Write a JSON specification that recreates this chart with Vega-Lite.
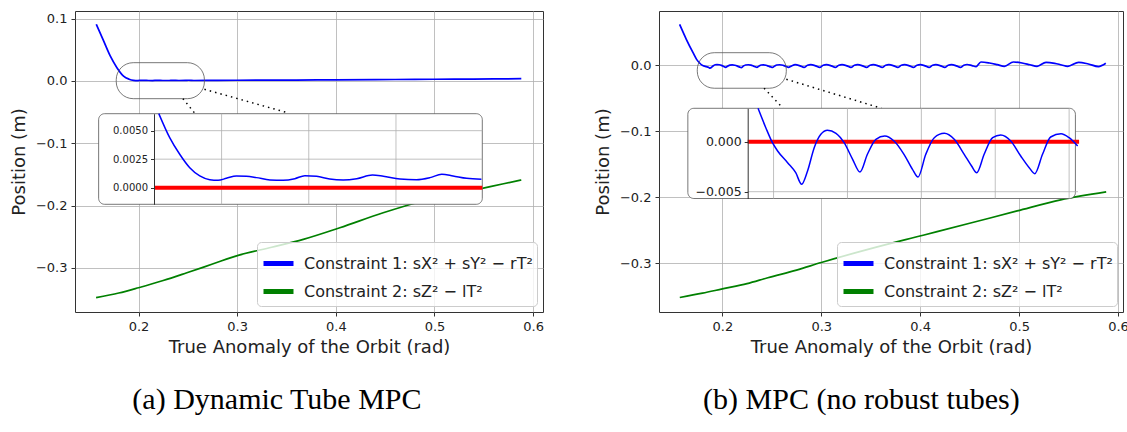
{
  "$schema": "https://vega.github.io/schema/vega-lite/v6.json",
  "padding": {"left": 9, "top": 10, "right": 0, "bottom": 0},
  "background": "white",
  "spacing": 49,
  "config": {
    "font": "DejaVu Sans",
    "view": {"stroke": "#333333", "strokeWidth": 1},
    "axis": {"labelFont": "DejaVu Sans", "labelFontSize": 13, "labelColor": "#222222", "titleFont": "DejaVu Sans", "titleFontSize": 18, "titleFontWeight": "normal", "titleColor": "#222222", "tickColor": "#333333", "tickSize": 4, "labelPadding": 4, "gridColor": "#b0b0b0", "gridWidth": 0.8, "domain": false},
    "legend": {"orient": "bottom-right", "offset": 6, "labelFont": "DejaVu Sans", "labelFontSize": 16, "labelColor": "#222222", "symbolType": "stroke", "symbolStrokeWidth": 5, "symbolSize": 900, "fillColor": "rgba(255,255,255,0.8)", "strokeColor": "#cccccc", "cornerRadius": 4, "padding": 4, "rowPadding": 0, "labelOffset": 8, "labelLimit": 400}
  },
  "datasets": {
    "a_main": [
      {"x": 0.1572, "y": 0.0911, "s": "1"}, {"x": 0.1646, "y": 0.0643, "s": "1"}, {"x": 0.1713, "y": 0.0402, "s": "1"}, {"x": 0.1781, "y": 0.0214, "s": "1"}, {"x": 0.1848, "y": 0.0078, "s": "1"}, {"x": 0.1904, "y": 0.0029, "s": "1"}, {"x": 0.195, "y": 0.00103, "s": "1"}, {"x": 0.1992, "y": 0.00065, "s": "1"}, {"x": 0.2034, "y": 0.00103, "s": "1"}, {"x": 0.208, "y": 0.00088, "s": "1"}, {"x": 0.2141, "y": 0.00065, "s": "1"}, {"x": 0.2191, "y": 0.00105, "s": "1"}, {"x": 0.2248, "y": 0.00076, "s": "1"}, {"x": 0.231, "y": 0.00079, "s": "1"}, {"x": 0.2346, "y": 0.00111, "s": "1"}, {"x": 0.2409, "y": 0.00076, "s": "1"}, {"x": 0.2478, "y": 0.00088, "s": "1"}, {"x": 0.2505, "y": 0.00118, "s": "1"}, {"x": 0.2562, "y": 0.00082, "s": "1"}, {"x": 0.28, "y": 0.001, "s": "1"}, {"x": 0.32, "y": 0.0013, "s": "1"}, {"x": 0.36, "y": 0.0015, "s": "1"}, {"x": 0.4, "y": 0.0018, "s": "1"}, {"x": 0.44, "y": 0.0022, "s": "1"}, {"x": 0.48, "y": 0.0026, "s": "1"}, {"x": 0.52, "y": 0.003, "s": "1"}, {"x": 0.56, "y": 0.0033, "s": "1"}, {"x": 0.588, "y": 0.0037, "s": "1"},
      {"x": 0.157, "y": -0.348, "s": "2"}, {"x": 0.18, "y": -0.3405, "s": "2"}, {"x": 0.2, "y": -0.332, "s": "2"}, {"x": 0.225, "y": -0.3205, "s": "2"}, {"x": 0.249, "y": -0.308, "s": "2"}, {"x": 0.275, "y": -0.294, "s": "2"}, {"x": 0.301, "y": -0.28, "s": "2"}, {"x": 0.335, "y": -0.267, "s": "2"}, {"x": 0.367, "y": -0.2543, "s": "2"}, {"x": 0.404, "y": -0.2357, "s": "2"}, {"x": 0.448, "y": -0.2116, "s": "2"}, {"x": 0.482, "y": -0.1955, "s": "2"}, {"x": 0.52, "y": -0.182, "s": "2"}, {"x": 0.5484, "y": -0.1724, "s": "2"}, {"x": 0.57, "y": -0.165, "s": "2"}, {"x": 0.588, "y": -0.159, "s": "2"}
    ],
    "a_inset": [
      {"x": 0.1856, "y": 0.0065}, {"x": 0.1881, "y": 0.00439}, {"x": 0.1904, "y": 0.00293}, {"x": 0.1927, "y": 0.00175}, {"x": 0.195, "y": 0.00103}, {"x": 0.1973, "y": 0.0007}, {"x": 0.1992, "y": 0.00065}, {"x": 0.2011, "y": 0.00082}, {"x": 0.2034, "y": 0.00103}, {"x": 0.2057, "y": 0.001}, {"x": 0.208, "y": 0.00088}, {"x": 0.2111, "y": 0.00068}, {"x": 0.2141, "y": 0.00065}, {"x": 0.2168, "y": 0.00079}, {"x": 0.2191, "y": 0.00105}, {"x": 0.2218, "y": 0.001}, {"x": 0.2248, "y": 0.00076}, {"x": 0.2279, "y": 0.00068}, {"x": 0.231, "y": 0.00079}, {"x": 0.2346, "y": 0.00111}, {"x": 0.2371, "y": 0.001}, {"x": 0.2409, "y": 0.00076}, {"x": 0.2447, "y": 0.0007}, {"x": 0.2478, "y": 0.00088}, {"x": 0.2505, "y": 0.00118}, {"x": 0.2531, "y": 0.00103}, {"x": 0.2562, "y": 0.00082}, {"x": 0.2596, "y": 0.00074}
    ],
    "a_ref": [{"x": 0.1845, "y": 0}, {"x": 0.2598, "y": 0}],
    "a_grid": [
      {"x": 0.2, "x2": 0.2, "y": -0.00146, "y2": 0.00649}, {"x": 0.22, "x2": 0.22, "y": -0.00146, "y2": 0.00649}, {"x": 0.24, "x2": 0.24, "y": -0.00146, "y2": 0.00649},
      {"x": 0.1845, "x2": 0.2598, "y": 0, "y2": 0}, {"x": 0.1845, "x2": 0.2598, "y": 0.0025, "y2": 0.0025}, {"x": 0.1845, "x2": 0.2598, "y": 0.005, "y2": 0.005}
    ],
    "a_box": [{"x": 0.1774, "x2": 0.2668, "y": -0.0284, "y2": 0.0294}],
    "a_links": [{"x": 0.245, "y": -0.0284, "x2": 0.2574, "y2": -0.0525}, {"x": 0.2668, "y": -0.0133, "x2": 0.3509, "y2": -0.0509}],
    "a_frame": [{"x": 0.1718, "x2": 0.2598, "y": -0.00146, "y2": 0.00649}],
    "b_main": [
      {"x": 0.1568, "y": 0.0621, "s": "1"}, {"x": 0.1636, "y": 0.0394, "s": "1"}, {"x": 0.1704, "y": 0.0191, "s": "1"}, {"x": 0.174, "y": 0.009, "s": "1"}, {"x": 0.177, "y": 0.0035, "s": "1"}, {"x": 0.1797, "y": -0.0001, "s": "1"}, {"x": 0.1811, "y": -0.00093, "s": "1"}, {"x": 0.1838, "y": -0.0021, "s": "1"}, {"x": 0.186, "y": -0.0031, "s": "1"}, {"x": 0.1876, "y": -0.00426, "s": "1"}, {"x": 0.1892, "y": -0.00293, "s": "1"}, {"x": 0.191, "y": -0.0006, "s": "1"}, {"x": 0.1928, "y": 0.00074, "s": "1"}, {"x": 0.1946, "y": 0.00114, "s": "1"}, {"x": 0.1969, "y": 0.00084, "s": "1"}, {"x": 0.1991, "y": -0.0001, "s": "1"}, {"x": 0.2014, "y": -0.00176, "s": "1"}, {"x": 0.2034, "y": -0.00303, "s": "1"}, {"x": 0.2054, "y": -0.00126, "s": "1"}, {"x": 0.2077, "y": 0.00024, "s": "1"}, {"x": 0.2101, "y": 0.00057, "s": "1"}, {"x": 0.2126, "y": 0.00007, "s": "1"}, {"x": 0.2153, "y": -0.00126, "s": "1"}, {"x": 0.2176, "y": -0.00276, "s": "1"}, {"x": 0.2191, "y": -0.00353, "s": "1"}, {"x": 0.2212, "y": -0.00126, "s": "1"}, {"x": 0.2235, "y": 0.0004, "s": "1"}, {"x": 0.2262, "y": 0.00084, "s": "1"}, {"x": 0.2289, "y": 0.00024, "s": "1"}, {"x": 0.2316, "y": -0.00126, "s": "1"}, {"x": 0.2336, "y": -0.00243, "s": "1"}, {"x": 0.235, "y": -0.0031, "s": "1"}, {"x": 0.237, "y": -0.00126, "s": "1"}, {"x": 0.2393, "y": 0.0004, "s": "1"}, {"x": 0.2415, "y": 0.00067, "s": "1"}, {"x": 0.2442, "y": 0.00007, "s": "1"}, {"x": 0.2469, "y": -0.00143, "s": "1"}, {"x": 0.2492, "y": -0.0026, "s": "1"}, {"x": 0.2507, "y": -0.0032, "s": "1"}, {"x": 0.2528, "y": -0.00126, "s": "1"}, {"x": 0.255, "y": 0.00047, "s": "1"}, {"x": 0.2578, "y": 0.0008, "s": "1"}, {"x": 0.26, "y": 0.0004, "s": "1"}, {"x": 0.2623, "y": -0.00043, "s": "1"}, {"x": 0.2645, "y": -0.0018, "s": "1"}, {"x": 0.2668, "y": -0.0032, "s": "1"}, {"x": 0.27, "y": -0.001, "s": "1"},
      {"x": 0.2736, "y": 0.0009, "s": "1"}, {"x": 0.2786, "y": -0.0009, "s": "1"}, {"x": 0.2826, "y": -0.0033, "s": "1"}, {"x": 0.2861, "y": 0.0001, "s": "1"},
      {"x": 0.2894, "y": 0.0009, "s": "1"}, {"x": 0.2944, "y": -0.0009, "s": "1"}, {"x": 0.2984, "y": -0.0033, "s": "1"}, {"x": 0.3019, "y": 0.0001, "s": "1"},
      {"x": 0.3052, "y": 0.0009, "s": "1"}, {"x": 0.3102, "y": -0.0009, "s": "1"}, {"x": 0.3142, "y": -0.0033, "s": "1"}, {"x": 0.3177, "y": 0.0001, "s": "1"},
      {"x": 0.321, "y": 0.0009, "s": "1"}, {"x": 0.326, "y": -0.0009, "s": "1"}, {"x": 0.33, "y": -0.0033, "s": "1"}, {"x": 0.3335, "y": 0.0001, "s": "1"},
      {"x": 0.3368, "y": 0.0009, "s": "1"}, {"x": 0.3418, "y": -0.0009, "s": "1"}, {"x": 0.3458, "y": -0.0033, "s": "1"}, {"x": 0.3493, "y": 0.0001, "s": "1"},
      {"x": 0.3526, "y": 0.0009, "s": "1"}, {"x": 0.3576, "y": -0.0009, "s": "1"}, {"x": 0.3616, "y": -0.0033, "s": "1"}, {"x": 0.3651, "y": 0.0001, "s": "1"},
      {"x": 0.3684, "y": 0.0009, "s": "1"}, {"x": 0.3734, "y": -0.0009, "s": "1"}, {"x": 0.3774, "y": -0.0033, "s": "1"}, {"x": 0.3809, "y": 0.0001, "s": "1"},
      {"x": 0.3842, "y": 0.0009, "s": "1"}, {"x": 0.3892, "y": -0.0009, "s": "1"}, {"x": 0.3932, "y": -0.0033, "s": "1"}, {"x": 0.3967, "y": 0.0001, "s": "1"},
      {"x": 0.4, "y": 0.0009, "s": "1"}, {"x": 0.405, "y": -0.0009, "s": "1"}, {"x": 0.409, "y": -0.0033, "s": "1"}, {"x": 0.4125, "y": 0.0001, "s": "1"},
      {"x": 0.4158, "y": 0.0009, "s": "1"}, {"x": 0.4208, "y": -0.0009, "s": "1"}, {"x": 0.4248, "y": -0.0033, "s": "1"}, {"x": 0.4283, "y": 0.0001, "s": "1"},
      {"x": 0.4316, "y": 0.0009, "s": "1"}, {"x": 0.4366, "y": -0.0009, "s": "1"}, {"x": 0.4406, "y": -0.0033, "s": "1"}, {"x": 0.4441, "y": 0.0001, "s": "1"},
      {"x": 0.4474, "y": 0.0012, "s": "1"}, {"x": 0.4524, "y": -0.0005, "s": "1"}, {"x": 0.4565, "y": -0.002, "s": "1"},
      {"x": 0.4614, "y": 0.005, "s": "1"}, {"x": 0.47, "y": 0.0035, "s": "1"}, {"x": 0.478, "y": 0.001, "s": "1"}, {"x": 0.4851, "y": -0.0015, "s": "1"},
      {"x": 0.4942, "y": 0.005, "s": "1"}, {"x": 0.503, "y": 0.0035, "s": "1"}, {"x": 0.511, "y": 0.0008, "s": "1"}, {"x": 0.5181, "y": -0.0015, "s": "1"},
      {"x": 0.5272, "y": 0.0045, "s": "1"}, {"x": 0.536, "y": 0.003, "s": "1"}, {"x": 0.543, "y": 0.0005, "s": "1"}, {"x": 0.5491, "y": -0.0015, "s": "1"},
      {"x": 0.5602, "y": 0.0045, "s": "1"}, {"x": 0.57, "y": 0.002, "s": "1"}, {"x": 0.5802, "y": -0.002, "s": "1"}, {"x": 0.5876, "y": 0.003, "s": "1"},
      {"x": 0.157, "y": -0.352, "s": "2"}, {"x": 0.18, "y": -0.3455, "s": "2"}, {"x": 0.2, "y": -0.339, "s": "2"}, {"x": 0.225, "y": -0.331, "s": "2"}, {"x": 0.246, "y": -0.322, "s": "2"}, {"x": 0.275, "y": -0.3105, "s": "2"}, {"x": 0.3, "y": -0.299, "s": "2"}, {"x": 0.35, "y": -0.278, "s": "2"}, {"x": 0.403, "y": -0.2576, "s": "2"}, {"x": 0.45, "y": -0.2395, "s": "2"}, {"x": 0.498, "y": -0.2208, "s": "2"}, {"x": 0.542, "y": -0.204, "s": "2"}, {"x": 0.588, "y": -0.192, "s": "2"}
    ],
    "b_inset": [
      {"x": 0.1758, "y": 0.00334}, {"x": 0.1779, "y": 0.0014}, {"x": 0.1797, "y": -0.0001}, {"x": 0.1811, "y": -0.00093}, {"x": 0.1838, "y": -0.0021}, {"x": 0.186, "y": -0.0031}, {"x": 0.1876, "y": -0.00426}, {"x": 0.1892, "y": -0.00293}, {"x": 0.191, "y": -0.0006}, {"x": 0.1928, "y": 0.00074}, {"x": 0.1946, "y": 0.00114}, {"x": 0.1969, "y": 0.00084}, {"x": 0.1991, "y": -0.0001}, {"x": 0.2014, "y": -0.00176}, {"x": 0.2034, "y": -0.00303}, {"x": 0.2054, "y": -0.00126}, {"x": 0.2077, "y": 0.00024}, {"x": 0.2101, "y": 0.00057}, {"x": 0.2126, "y": 0.00007}, {"x": 0.2153, "y": -0.00126}, {"x": 0.2176, "y": -0.00276}, {"x": 0.2191, "y": -0.00353}, {"x": 0.2212, "y": -0.00126}, {"x": 0.2235, "y": 0.0004}, {"x": 0.2262, "y": 0.00084}, {"x": 0.2289, "y": 0.00024}, {"x": 0.2316, "y": -0.00126}, {"x": 0.2336, "y": -0.00243}, {"x": 0.235, "y": -0.0031}, {"x": 0.237, "y": -0.00126}, {"x": 0.2393, "y": 0.0004}, {"x": 0.2415, "y": 0.00067}, {"x": 0.2442, "y": 0.00007}, {"x": 0.2469, "y": -0.00143}, {"x": 0.2492, "y": -0.0026}, {"x": 0.2507, "y": -0.0032}, {"x": 0.2528, "y": -0.00126}, {"x": 0.255, "y": 0.00047}, {"x": 0.2578, "y": 0.0008}, {"x": 0.26, "y": 0.0004}, {"x": 0.2623, "y": -0.00043}
    ],
    "b_ref": [{"x": 0.173, "y": 0}, {"x": 0.2627, "y": 0}],
    "b_grid": [
      {"x": 0.18, "x2": 0.18, "y": -0.00568, "y2": 0.00334}, {"x": 0.2, "x2": 0.2, "y": -0.00568, "y2": 0.00334}, {"x": 0.22, "x2": 0.22, "y": -0.00568, "y2": 0.00334}, {"x": 0.24, "x2": 0.24, "y": -0.00568, "y2": 0.00334}, {"x": 0.26, "x2": 0.26, "y": -0.00568, "y2": 0.00334},
      {"x": 0.173, "x2": 0.2624, "y": 0, "y2": 0}, {"x": 0.173, "x2": 0.2624, "y": -0.005, "y2": -0.005}
    ],
    "b_box": [{"x": 0.1747, "x2": 0.2647, "y": -0.0348, "y2": 0.0191}],
    "b_links": [{"x": 0.2422, "y": -0.0348, "x2": 0.2614, "y2": -0.0652}, {"x": 0.2647, "y": -0.0212, "x2": 0.3608, "y2": -0.0652}],
    "b_frame": [{"x": 0.1568, "x2": 0.2617, "y": -0.00568, "y2": 0.00334}]
  },
  "resolve": {"scale": {"color": "independent"}, "legend": {"color": "independent"}},
  "hconcat": [
    {
      "width": 468,
      "height": 301,
      "title": {"text": "(a) Dynamic Tube MPC", "orient": "bottom", "anchor": "middle", "frame": "bounds", "font": "Liberation Serif", "fontSize": 30, "fontWeight": "normal", "color": "#000000", "offset": 29},
      "resolve": {"scale": {"x": "independent", "y": "independent"}, "axis": {"x": "independent", "y": "independent"}},
      "layer": [
        {
          "encoding": {
            "x": {"field": "x", "type": "quantitative", "scale": {"domain": [0.1356, 0.61], "nice": false, "zero": false}, "axis": {"values": [0.2, 0.3, 0.4, 0.5, 0.6], "format": ".1f", "title": "True Anomaly of the Orbit (rad)", "grid": true, "titlePadding": 5}},
            "y": {"field": "y", "type": "quantitative", "scale": {"domain": [-0.371, 0.1124], "nice": false, "zero": false}, "axis": {"values": [-0.3, -0.2, -0.1, 0, 0.1], "format": ".1f", "title": "Position (m)", "grid": true, "titlePadding": 7}}
          },
          "layer": [
            {"data": {"name": "a_main"}, "mark": {"type": "line", "strokeWidth": 1.7, "interpolate": "monotone"}, "encoding": {"color": {"field": "s", "type": "nominal", "scale": {"domain": ["1", "2"], "range": ["#0000ff", "#008000"]}, "legend": {"title": null, "labelExpr": "datum.label == '1' ? 'Constraint 1: sX² + sY² − rT²' : 'Constraint 2: sZ² − lT²'"}}}},
            {"data": {"name": "a_box"}, "mark": {"type": "rect", "fill": "transparent", "stroke": "#555555", "strokeWidth": 0.8, "cornerRadius": 17}, "encoding": {"x2": {"field": "x2"}, "y2": {"field": "y2"}}},
            {"data": {"name": "a_links"}, "mark": {"type": "rule", "color": "#000000", "strokeWidth": 1.5, "strokeDash": [1.5, 4]}, "encoding": {"x2": {"field": "x2"}, "y2": {"field": "y2"}}}
          ]
        },
        {
          "encoding": {
            "x": {"field": "x", "type": "quantitative", "scale": {"domain": [0.1845, 0.2598], "range": [79, 407.3], "nice": false, "zero": false}, "axis": null},
            "y": {"field": "y", "type": "quantitative", "scale": {"domain": [-0.00146, 0.00649], "range": [193.3, 102.7], "nice": false, "zero": false}, "axis": {"orient": "left", "offset": -79, "values": [0, 0.0025, 0.005], "format": ".4f", "labelFontSize": 10, "tickSize": 3.5, "labelPadding": 3, "domain": true, "domainColor": "#333333", "grid": false, "title": null, "zindex": 1}}
          },
          "layer": [
            {"data": {"name": "a_frame"}, "mark": {"type": "rect", "fill": "white", "stroke": "#555555", "strokeWidth": 0.8, "cornerRadius": 6}, "encoding": {"x2": {"field": "x2"}, "y2": {"field": "y2"}}},
            {"data": {"name": "a_grid"}, "mark": {"type": "rule", "color": "#b0b0b0", "strokeWidth": 0.8}, "encoding": {"x2": {"field": "x2"}, "y2": {"field": "y2"}}},
            {"data": {"name": "a_ref"}, "mark": {"type": "line", "color": "#ff0000", "strokeWidth": 4}},
            {"data": {"name": "a_inset"}, "mark": {"type": "line", "color": "#0000ff", "strokeWidth": 1.5, "interpolate": "monotone"}}
          ]
        }
      ]
    },
    {
      "width": 464,
      "height": 301,
      "title": {"text": "(b) MPC (no robust tubes)", "orient": "bottom", "anchor": "middle", "frame": "bounds", "font": "Liberation Serif", "fontSize": 30, "fontWeight": "normal", "color": "#000000", "offset": 29},
      "resolve": {"scale": {"x": "independent", "y": "independent"}, "axis": {"x": "independent", "y": "independent"}},
      "layer": [
        {
          "encoding": {
            "x": {"field": "x", "type": "quantitative", "scale": {"domain": [0.136, 0.605], "nice": false, "zero": false}, "axis": {"values": [0.2, 0.3, 0.4, 0.5, 0.6], "format": ".1f", "title": "True Anomaly of the Orbit (rad)", "grid": true, "titlePadding": 5}},
            "y": {"field": "y", "type": "quantitative", "scale": {"domain": [-0.374, 0.0823], "nice": false, "zero": false}, "axis": {"values": [-0.3, -0.2, -0.1, 0], "format": ".1f", "title": "Position (m)", "grid": true, "titlePadding": 7}}
          },
          "layer": [
            {"data": {"name": "b_main"}, "mark": {"type": "line", "strokeWidth": 1.7, "interpolate": "monotone"}, "encoding": {"color": {"field": "s", "type": "nominal", "scale": {"domain": ["1", "2"], "range": ["#0000ff", "#008000"]}, "legend": {"title": null, "labelExpr": "datum.label == '1' ? 'Constraint 1: sX² + sY² − rT²' : 'Constraint 2: sZ² − lT²'"}}}},
            {"data": {"name": "b_box"}, "mark": {"type": "rect", "fill": "transparent", "stroke": "#555555", "strokeWidth": 0.8, "cornerRadius": 17}, "encoding": {"x2": {"field": "x2"}, "y2": {"field": "y2"}}},
            {"data": {"name": "b_links"}, "mark": {"type": "rule", "color": "#000000", "strokeWidth": 1.5, "strokeDash": [1.5, 4]}, "encoding": {"x2": {"field": "x2"}, "y2": {"field": "y2"}}}
          ]
        },
        {
          "encoding": {
            "x": {"field": "x", "type": "quantitative", "scale": {"domain": [0.173, 0.2624], "range": [88.7, 419], "nice": false, "zero": false}, "axis": null},
            "y": {"field": "y", "type": "quantitative", "scale": {"domain": [-0.00568, 0.00334], "range": [187.5, 97.3], "nice": false, "zero": false}, "axis": {"orient": "left", "offset": -88.7, "values": [-0.005, 0], "format": ".3f", "labelFontSize": 12.5, "tickSize": 3.5, "labelPadding": 3, "domain": true, "domainColor": "#333333", "grid": false, "title": null, "zindex": 1}}
          },
          "layer": [
            {"data": {"name": "b_frame"}, "mark": {"type": "rect", "fill": "white", "stroke": "#555555", "strokeWidth": 0.8, "cornerRadius": 6}, "encoding": {"x2": {"field": "x2"}, "y2": {"field": "y2"}}},
            {"data": {"name": "b_grid"}, "mark": {"type": "rule", "color": "#b0b0b0", "strokeWidth": 0.8}, "encoding": {"x2": {"field": "x2"}, "y2": {"field": "y2"}}},
            {"data": {"name": "b_ref"}, "mark": {"type": "line", "color": "#ff0000", "strokeWidth": 4}},
            {"data": {"name": "b_inset"}, "mark": {"type": "line", "color": "#0000ff", "strokeWidth": 1.5, "interpolate": "monotone"}}
          ]
        }
      ]
    }
  ]
}
